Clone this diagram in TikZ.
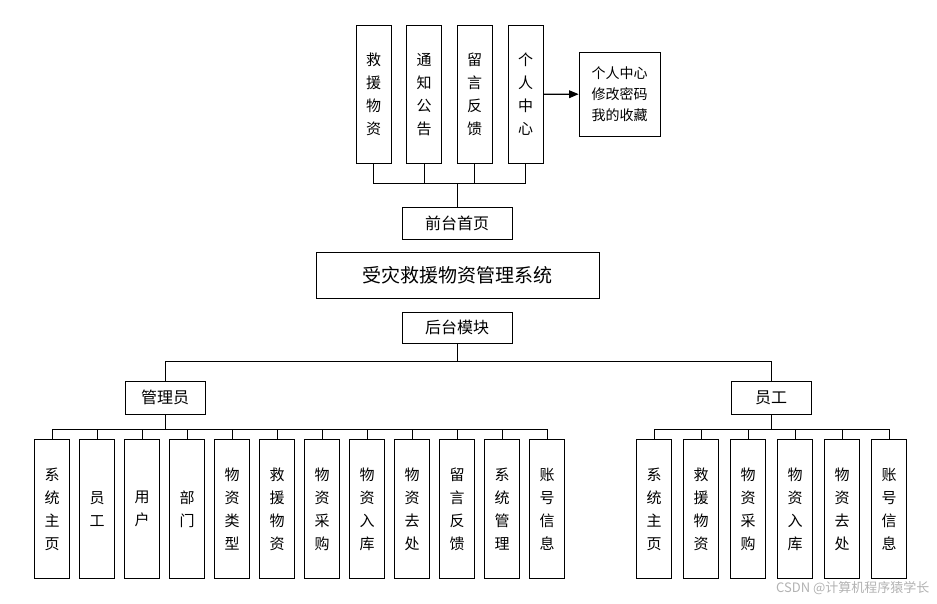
\documentclass[tikz,border=0pt]{standalone}
\usepackage{fontspec}
\newfontfamily\cjk{Noto Sans CJK SC}
\usetikzlibrary{positioning}
\usetikzlibrary{calc}
\usetikzlibrary{arrows}
\tikzset{
  box/.style={draw, line width=0.8, font=\cjk\fontsize{16}{20}\selectfont, inner sep=2pt},
  col/.style={box, minimum width=35, minimum height=139, align=center, anchor=north, font=\cjk\fontsize{15}{23}\selectfont},
  topcol/.style={col, minimum height=138},
  wire/.style={line width=0.8}
}
\begin{document}
\begin{tikzpicture}[x=1pt,y=-1pt]
        \useasboundingbox (0,0) rectangle (937,603);
        % nodes %
        \node[topcol] (f1) at (373.5,25) {救\\援\\物\\资};
        \node[topcol] (f2) at (424,25) {通\\知\\公\\告};
        \node[topcol] (f3) at (474.5,25) {留\\言\\反\\馈};
        \node[topcol] (f4) at (525.5,25) {个\\人\\中\\心};
        \node[box, minimum width=81, minimum height=84, align=center, font=\cjk\fontsize{14}{21}\selectfont] (me) at (619.5,94) {个人中心\\修改密码\\我的收藏};
        \node[box, minimum width=110, minimum height=32] (front) at (457,223) {前台首页};
        \node[box, minimum width=283, minimum height=46, font=\cjk\fontsize{19}{23}\selectfont] (sys) at (457.5,275) {受灾救援物资管理系统};
        \node[box, minimum width=110, minimum height=31] (back) at (457,327.5) {后台模块};
        \node[box, minimum width=80, minimum height=33] (admin) at (165,397.5) {管理员};
        \node[box, minimum width=80, minimum height=33] (staff) at (771,397.5) {员工};

        \foreach \t [count=\i] in {系\\统\\主\\页, 员\\工, 用\\户, 部\\门, 物\\资\\类\\型, 救\\援\\物\\资, 物\\资\\采\\购, 物\\资\\入\\库, 物\\资\\去\\处, 留\\言\\反\\馈, 系\\统\\管\\理, 账\\号\\信\\息}
          \node[col] (a\i) at ({7+45*\i},439) {\t};
        \foreach \t [count=\i] in {系\\统\\主\\页, 救\\援\\物\\资, 物\\资\\采\\购, 物\\资\\入\\库, 物\\资\\去\\处, 账\\号\\信\\息}
          \node[col] (s\i) at ({607+47*\i},439) {\t};

        % edges %
        \foreach \i in {1,...,4}
          \draw[wire] (f\i.south) -- ++(0,20);
        \draw[wire] ($(f1.south)+(0,20)$) -- ($(f4.south)+(0,20)$);
        \draw[wire] (front.north) -- ++(0,-24);
        \draw[->, >=triangle 45, line width=1.2] (f4) -- (me);
        \draw[wire] (back.south) -- ++(0,19);
        \draw[wire] (admin.north) -- ++(0,-19) -| (staff.north);
        \draw[wire] (admin.south) -- ++(0,15);
        \draw[wire] (a1.north) -- ++(0,-10) -| (a12.north);
        \foreach \i in {2,...,11}
          \draw[wire] (a\i.north) -- ++(0,-10);
        \draw[wire] (staff.south) -- ++(0,15);
        \draw[wire] (s1.north) -- ++(0,-10) -| (s6.north);
        \foreach \i in {2,...,5}
          \draw[wire] (s\i.north) -- ++(0,-10);

        \node[text=gray!60, font=\cjk\fontsize{13}{15}\selectfont, anchor=south east] (mark) at (933,598) {CSDN @计算机程序猿学长};
\end{tikzpicture}
\end{document}
